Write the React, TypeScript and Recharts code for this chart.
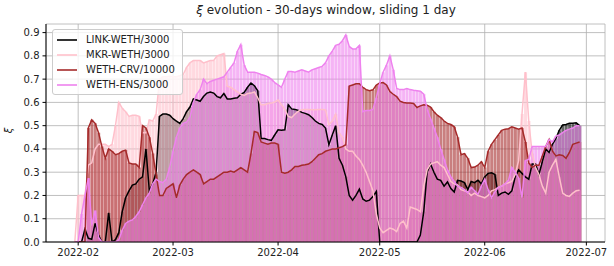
import React from 'react'
import { ComposedChart, Bar, Line, XAxis, YAxis, CartesianGrid } from 'recharts'

// daily values, 2022-01-31 .. 2022-06-29
const linkWeth = [
  0, 0, 0, 0.055, 0.016, 0.012, 0.08, 0.03, 0, 0,
  0.125, 0, 0.01, 0.04, 0.13, 0.19, 0.22, 0.245, 0.25, 0.27,
  0.28, 0.4, 0.22, 0.25, 0.3, 0.54, 0.55, 0.55, 0.545, 0.53,
  0.52, 0.51, 0.53, 0.56, 0.58, 0.615, 0.61, 0.605, 0.625, 0.64,
  0.645, 0.64, 0.625, 0.62, 0.638, 0.615, 0.615, 0.618, 0.62, 0.635,
  0.643, 0.665, 0.683, 0.672, 0.65, 0.445, 0.445, 0.44, 0.437, 0.46,
  0.482, 0.48, 0.482, 0.59, 0.572, 0.57, 0.565, 0.557, 0.553, 0.547,
  0.535, 0.52, 0.51, 0.505, 0.49, 0.418, 0.46, 0.5, 0.36, 0.33,
  0.28, 0.2, 0.18, 0.2, 0.227, 0.185, 0.175, 0.18, 0.195, 0.217,
  0, 0, 0, 0, 0, 0, 0, 0, 0, 0,
  0, 0, 0.03, 0.13, 0.3, 0.335, 0.3, 0.27, 0.265, 0.24,
  0.258, 0.23, 0.215, 0.265, 0.262, 0.255, 0.225, 0.26, 0.255, 0.265,
  0.25, 0.28, 0.295, 0.298, 0.29, 0.2, 0.21, 0.215, 0.205, 0.22,
  0.28, 0.31, 0.295, 0.28, 0.27, 0.335, 0.335, 0.29, 0.345, 0.4,
  0.385, 0.42, 0.445, 0.48, 0.503, 0.505, 0.51, 0.51, 0.512, 0.5,
]

const mkrWeth = [
  0, 0.2, 0.2, 0.2, 0.33, 0.34, 0.4, 0.42, 0.42, 0.42,
  0.41, 0.42, 0.5, 0.6, 0.575, 0.56, 0.54, 0.545, 0.545, 0.54,
  0.47, 0.47, 0.525, 0.52, 0.55, 0.7, 0.71, 0.71, 0.712, 0.71,
  0.71, 0.715, 0.72, 0.75, 0.77, 0.78, 0.78, 0.78, 0.77, 0.775,
  0.78, 0.78, 0.8, 0.805, 0.81, 0.67, 0.665, 0.655, 0.645, 0.635,
  0.63, 0.638, 0.64, 0.645, 0.62, 0.59, 0.59, 0.595, 0.597, 0.602,
  0.61, 0.59, 0.57, 0.54, 0.535, 0.55, 0.562, 0.568, 0.57, 0.57,
  0.568, 0.568, 0.57, 0.57, 0.568, 0.504, 0.52, 0.55, 0.47, 0.45,
  0.4, 0.39, 0.39, 0.37, 0.355, 0.33, 0.3, 0.26, 0.22, 0.12,
  0.06, 0.04, 0.05, 0.06, 0.055, 0.045, 0.08, 0.09, 0.06, 0.15,
  0.145, 0.14, 0.13, 0.24, 0.31, 0.335, 0.34, 0.345, 0.33, 0.32,
  0.29, 0.26, 0.25, 0.245, 0.225, 0.22, 0.215, 0.2, 0.21, 0.2,
  0.195, 0.19, 0.2, 0.22, 0.225, 0.235, 0.24, 0.25, 0.255, 0.26,
  0.29, 0.35, 0.55, 0.73, 0.52, 0.38, 0.32, 0.29, 0.24, 0.21,
  0.3, 0.33, 0.355, 0.28, 0.21, 0.2, 0.196, 0.21, 0.22, 0.222,
]

const wethCrv = [
  0, 0, 0, 0, 0.49, 0.525, 0.51, 0.47, 0.41, 0.36,
  0.4, 0.39, 0.375, 0.38, 0.39, 0.395, 0.34, 0.335, 0.335, 0.32,
  0.5, 0.49, 0.45, 0.38, 0.29, 0.2, 0.2, 0.23, 0.24, 0.25,
  0.19, 0.245, 0.27, 0.29, 0.3, 0.31, 0.3, 0.29, 0.25, 0.26,
  0.27, 0.27, 0.28, 0.29, 0.3, 0.3, 0.305, 0.3, 0.31, 0.32,
  0.31, 0.3, 0.38, 0.475, 0.47, 0.43, 0.425, 0.42, 0.425, 0.425,
  0.42, 0.3, 0.296, 0.3, 0.31, 0.325, 0.325, 0.33, 0.332, 0.335,
  0.345, 0.36, 0.375, 0.38, 0.39, 0.395, 0.4, 0.4, 0.405, 0.41,
  0.418, 0.67, 0.675, 0.68, 0.68, 0.665, 0.655, 0.65, 0.654, 0.675,
  0.683, 0.685, 0.675, 0.647, 0.635, 0.625, 0.605, 0.6, 0.597, 0.597,
  0.595, 0.578, 0.585, 0.59, 0.588, 0.58, 0.56, 0.545, 0.535, 0.52,
  0.51, 0.505, 0.495, 0.45, 0.375, 0.38, 0.36, 0.32, 0.322, 0.33,
  0.345, 0.32, 0.39, 0.42, 0.44, 0.46, 0.48, 0.485, 0.487, 0.495,
  0.49, 0.485, 0.49, 0.43, 0.34, 0.32, 0.33, 0.33, 0.37, 0.41,
  0.44, 0.39, 0.37, 0.375, 0.372, 0.36, 0.385, 0.42, 0.425, 0.43,
]

const wethEns = [
  0, 0, 0.12, 0.2, 0.275, 0.07, 0.135, 0.02, 0, 0,
  0, 0, 0, 0.01, 0.05, 0.08, 0.09, 0.095, 0.11, 0.13,
  0.16, 0.19, 0.21, 0.25, 0.27, 0.26, 0.255, 0.27, 0.32, 0.39,
  0.45, 0.49, 0.51, 0.515, 0.535, 0.6, 0.635, 0.655, 0.7, 0.68,
  0.69, 0.695, 0.7, 0.705, 0.71, 0.73, 0.75, 0.77, 0.82, 0.848,
  0.76, 0.73, 0.73, 0.73, 0.726, 0.72, 0.716, 0.71, 0.7, 0.685,
  0.675, 0.665, 0.7, 0.733, 0.733, 0.73, 0.735, 0.74, 0.735, 0.73,
  0.74, 0.745, 0.75, 0.755, 0.77, 0.8, 0.82, 0.845, 0.85, 0.865,
  0.89, 0.84, 0.83, 0.83, 0.845, 0.56, 0.565, 0.565, 0.57, 0.62,
  0.68, 0.73, 0.76, 0.8, 0.74, 0.66, 0.655, 0.655, 0.66, 0.655,
  0.652, 0.65, 0.648, 0.635, 0.57, 0.53, 0.49, 0.45, 0.4, 0.355,
  0.31, 0.28, 0.26, 0.24, 0.235, 0.225, 0.21, 0.235, 0.22, 0.205,
  0.24, 0.27, 0.225, 0.19, 0.215, 0.235, 0.24, 0.25, 0.265, 0.32,
  0.3, 0.275, 0.19, 0.35, 0.355, 0.41, 0.41, 0.41, 0.41, 0.41,
  0.44, 0.43, 0.455, 0.46, 0.47, 0.48, 0.485, 0.49, 0.5, 0.5,
]

const yTicks = [0, 0.1, 0.2, 0.3, 0.4, 0.5, 0.6, 0.7, 0.8, 0.9]
const monthTicks = ['2022-02-01', '2022-03-01', '2022-04-01', '2022-05-01', '2022-06-01', '2022-07-01']

const SERIES = [
  { key: 'link', name: 'LINK-WETH/3000', color: '#000000', values: linkWeth },
  { key: 'mkr', name: 'MKR-WETH/3000', color: '#ffc0cb', values: mkrWeth },
  { key: 'crv', name: 'WETH-CRV/10000', color: '#a52a2a', values: wethCrv },
  { key: 'ens', name: 'WETH-ENS/3000', color: '#ee82ee', values: wethEns },
]

// axis runs 2022-01-23 .. 2022-07-06, data starts on 2022-01-31
const AXIS_START = Date.UTC(2022, 0, 23)
const AXIS_DAYS = 165
const PAD_BEFORE = 8

const dates = Array.from({ length: AXIS_DAYS }, (_, i) =>
  new Date(AXIS_START + i * 86400000).toISOString().slice(0, 10)
)

const rows = dates.map((date, i) => {
  const k = i - PAD_BEFORE
  const row: any = { date }
  SERIES.forEach(s => {
    row[s.key] = k >= 0 && k < s.values.length ? s.values[k] : null
  })
  return row
})

const FONT = '"DejaVu Sans", Verdana, sans-serif'
const tickStyle = { fontSize: 10, fill: '#222', fontFamily: FONT }

const LegendBox = () => (
  <div
    style={{
      position: 'absolute',
      left: 52,
      top: 29,
      background: 'rgba(255,255,255,0.8)',
      border: '1px solid #cccccc',
      borderRadius: 3,
      padding: '2px 7px 2px 4px',
      fontFamily: FONT,
      fontSize: 10,
      lineHeight: '15px',
      color: '#222',
    }}
  >
    {SERIES.map(s => (
      <div key={s.key} style={{ display: 'flex', alignItems: 'center', height: 15 }}>
        <span style={{ display: 'inline-block', width: 20, height: 2, background: s.color, opacity: 0.8, marginRight: 9 }} />
        <span>{s.name}</span>
      </div>
    ))}
  </div>
)

export default function App() {
  return (
    <div style={{ position: 'fixed', left: 0, top: 0, width: 614, height: 266, background: '#fff' }}>
      <div
        style={{
          position: 'absolute',
          left: 46,
          width: 560,
          top: 3,
          textAlign: 'center',
          fontFamily: FONT,
          fontSize: 12,
          color: '#222',
        }}
      >
        <i>ξ</i> evolution - 30-days window, sliding 1 day
      </div>
      <div
        style={{
          position: 'absolute',
          left: 6,
          top: 125,
          transform: 'rotate(-90deg)',
          fontFamily: FONT,
          fontSize: 10,
          fontStyle: 'italic',
          color: '#222',
        }}
      >
        ξ
      </div>
      <ComposedChart
        width={614}
        height={266}
        data={rows}
        margin={{ top: 24, right: 9, bottom: 0, left: 8 }}
        barCategoryGap="11%"
      >
        <CartesianGrid xAxisId="main" stroke="#b0b0b0" strokeWidth={0.8} />
        <XAxis
          xAxisId="main"
          dataKey="date"
          ticks={monthTicks}
          interval={0}
          tickFormatter={(v: string) => v.slice(0, 7)}
          tick={tickStyle}
          tickSize={3.5}
          tickMargin={3}
          height={24}
          stroke="#000"
          tickLine={{ stroke: '#000' }}
        />
        <XAxis xAxisId="b2" dataKey="date" hide height={0} />
        <XAxis xAxisId="b3" dataKey="date" hide height={0} />
        <XAxis xAxisId="b4" dataKey="date" hide height={0} />
        <XAxis xAxisId="top" dataKey="date" orientation="top" tick={false} tickLine={false} height={0} stroke="#000" />
        <YAxis
          domain={[0, 0.937]}
          ticks={yTicks}
          allowDataOverflow
          tickFormatter={(v: number) => v.toFixed(1)}
          tick={tickStyle}
          tickSize={3.5}
          tickMargin={3}
          width={38}
          stroke="#000"
          tickLine={{ stroke: '#000' }}
        />
        <YAxis yAxisId="right" orientation="right" domain={[0, 1]} tick={false} tickLine={false} width={0} stroke="#000" />
        {SERIES.map((s, i) => (
          <Bar
            key={'bar-' + s.key}
            xAxisId={i === 0 ? 'main' : 'b' + (i + 1)}
            dataKey={s.key}
            fill={s.color}
            fillOpacity={0.6}
            isAnimationActive={false}
          />
        ))}
        {SERIES.map(s => (
          <Line
            key={'line-' + s.key}
            xAxisId="main"
            dataKey={s.key}
            name={s.name}
            type="linear"
            stroke={s.color}
            strokeWidth={1.5}
            dot={false}
            activeDot={false}
            isAnimationActive={false}
          />
        ))}
      </ComposedChart>
      <LegendBox />
    </div>
  )
}
